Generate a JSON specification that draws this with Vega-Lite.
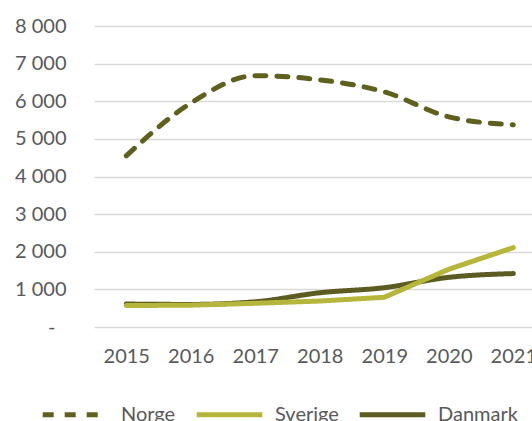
{
  "$schema": "https://vega.github.io/schema/vega-lite/v6.json",
  "autosize": "none",
  "width": 438,
  "height": 301,
  "padding": {"left": 94, "top": 26, "right": 0, "bottom": 94},
  "background": "white",
  "config": {
    "view": {"stroke": null},
    "font": "Lato",
    "axis": {"labelFont": "Lato", "labelFontSize": 20, "labelColor": "#595959"},
    "legend": {"labelFont": "Lato", "labelFontSize": 20, "labelColor": "#595959"}
  },
  "data": {
    "values": [
      {"year": 2015, "country": "Norge", "value": 4550},
      {"year": 2016, "country": "Norge", "value": 5950},
      {"year": 2017, "country": "Norge", "value": 6680},
      {"year": 2018, "country": "Norge", "value": 6570},
      {"year": 2019, "country": "Norge", "value": 6250},
      {"year": 2020, "country": "Norge", "value": 5585},
      {"year": 2021, "country": "Norge", "value": 5375},
      {"year": 2015, "country": "Sverige", "value": 570},
      {"year": 2016, "country": "Sverige", "value": 580},
      {"year": 2017, "country": "Sverige", "value": 630},
      {"year": 2018, "country": "Sverige", "value": 690},
      {"year": 2019, "country": "Sverige", "value": 790},
      {"year": 2020, "country": "Sverige", "value": 1535},
      {"year": 2021, "country": "Sverige", "value": 2110},
      {"year": 2015, "country": "Danmark", "value": 610},
      {"year": 2016, "country": "Danmark", "value": 600},
      {"year": 2017, "country": "Danmark", "value": 670},
      {"year": 2018, "country": "Danmark", "value": 910},
      {"year": 2019, "country": "Danmark", "value": 1045},
      {"year": 2020, "country": "Danmark", "value": 1320},
      {"year": 2021, "country": "Danmark", "value": 1420}
    ]
  },
  "encoding": {
    "x": {
      "field": "year", "type": "quantitative",
      "scale": {"domain": [2014.5, 2021.29], "nice": false, "zero": false},
      "axis": {"title": null, "grid": false, "ticks": false, "domain": false, "values": [2015, 2016, 2017, 2018, 2019, 2020, 2021], "format": "d", "labelPadding": 19, "labelFlush": false}
    },
    "y": {
      "field": "value", "type": "quantitative",
      "scale": {"domain": [0, 8000], "nice": false},
      "axis": {"title": null, "ticks": false, "domain": false, "values": [0, 1000, 2000, 3000, 4000, 5000, 6000, 7000, 8000], "gridColor": "#d9d9d9", "gridWidth": 1.5,
        "labelPadding": {"condition": {"test": "datum.value == 0", "value": 39}, "value": 28},
        "labelExpr": "datum.value == 0 ? '-' : replace(format(datum.value, ','), ',', '\u00a0')"}
    },
    "color": {
      "field": "country", "type": "nominal",
      "scale": {"domain": ["Norge", "Sverige", "Danmark"], "range": ["#5f5f1f", "#b6b53c", "#5c5b22"]},
      "legend": {"title": null, "orient": "none", "legendX": -54, "legendY": 353, "direction": "horizontal", "symbolType": "stroke", "symbolSize": 4300, "symbolStrokeWidth": 5, "columnPadding": 10, "labelOffset": 10}
    },
    "strokeDash": {
      "field": "country", "type": "nominal",
      "scale": {"domain": ["Norge", "Sverige", "Danmark"], "range": [[11, 11], [1, 0], [1, 0]]},
      "legend": {"title": null, "orient": "none", "legendX": -54, "legendY": 353, "direction": "horizontal", "symbolType": "stroke", "symbolSize": 4300, "symbolStrokeWidth": 5, "columnPadding": 10, "labelOffset": 10}
    }
  },
  "layer": [
    {
      "transform": [{"filter": "datum.country != 'Sverige'"}],
      "mark": {"type": "line", "interpolate": "monotone", "strokeWidth": 5, "strokeCap": "round", "strokeJoin": "round"}
    },
    {
      "transform": [{"filter": "datum.country == 'Sverige'"}],
      "mark": {"type": "line", "interpolate": "linear", "strokeWidth": 5, "strokeCap": "round", "strokeJoin": "round"}
    }
  ]
}
